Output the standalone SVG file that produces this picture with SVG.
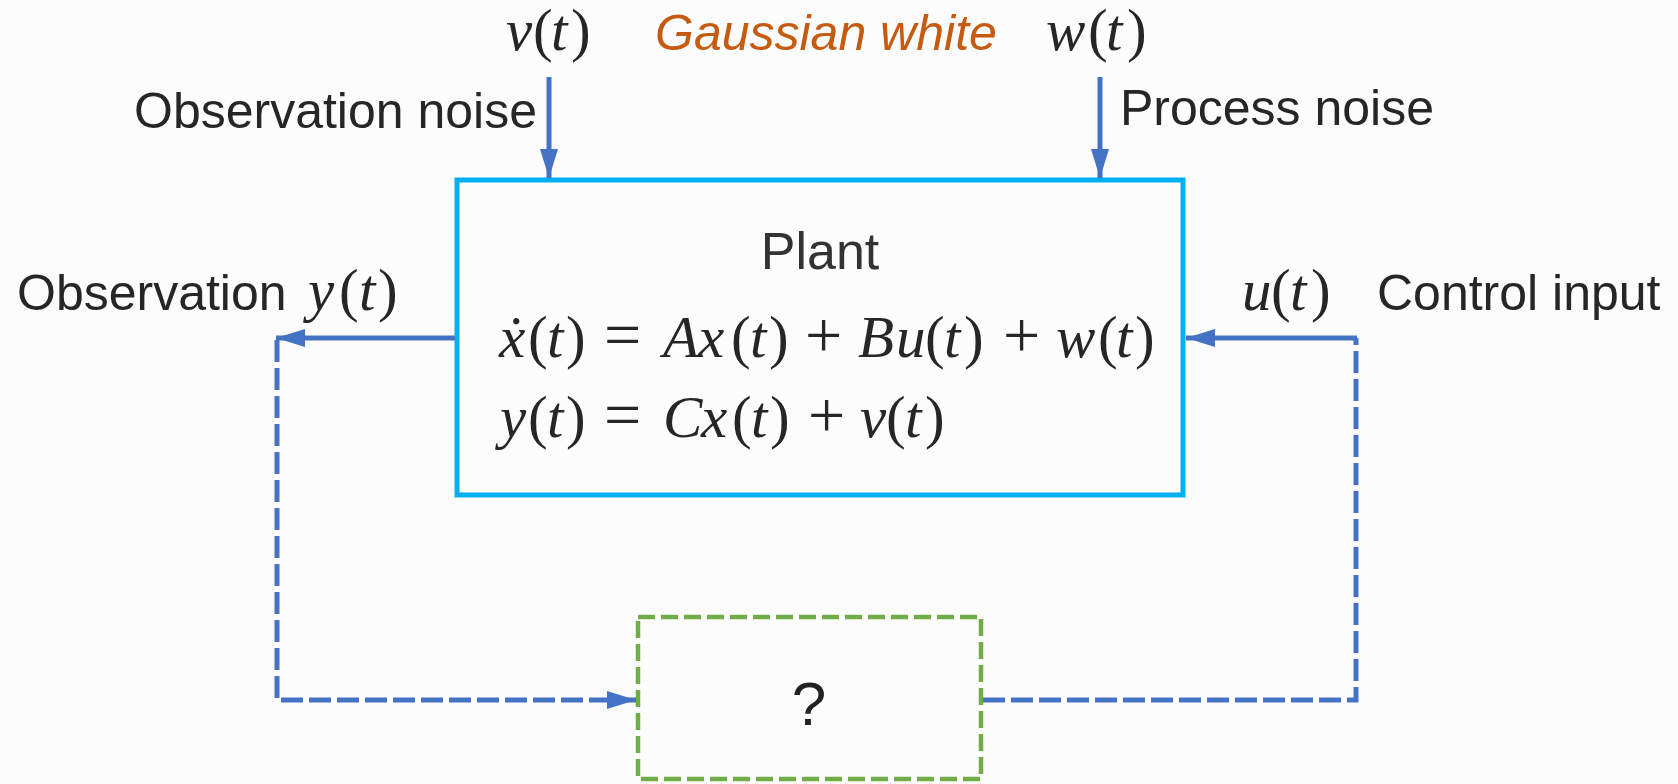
<svg xmlns="http://www.w3.org/2000/svg" width="1678" height="784" viewBox="0 0 1678 784">
<style>
.lbl{font-family:"Liberation Sans",Arial,sans-serif;font-size:50px;fill:#262626}
.math{font-family:"Liberation Serif","Times New Roman",serif;font-size:59px;fill:#262626}
.it{font-style:italic}
.op{font-size:66px}
.solid{fill:none;stroke:#4472c4;stroke-width:5}
.dash{fill:none;stroke:#4472c4;stroke-width:5;stroke-dasharray:22 6}
</style>
<defs>
<marker id="ah" viewBox="0 0 29 18" refX="29" refY="9" markerWidth="29" markerHeight="18" markerUnits="userSpaceOnUse" orient="auto">
<path d="M0,0 L29,9 L0,18 Z" fill="#4472c4"/>
</marker>
</defs>
<rect width="1678" height="784" fill="#fcfcfc"/>

<g id="labels">
<text class="lbl" x="537" y="128" text-anchor="end">Observation noise</text>
<text class="lbl" x="655" y="50" font-style="italic" style="fill:#c55a11">Gaussian white</text>
<text class="lbl" x="1120" y="125">Process noise</text>
<text class="lbl" x="17" y="310">Observation</text>
<text class="lbl" x="1377" y="310">Control input</text>
<text class="math" y="50"><tspan class="it" x="506">v</tspan><tspan x="533">(</tspan><tspan class="it" x="551">t</tspan><tspan x="571">)</tspan></text>
<text class="math" y="50"><tspan class="it" x="1046">w</tspan><tspan x="1088">(</tspan><tspan class="it" x="1106">t</tspan><tspan x="1127">)</tspan></text>
<text class="math" y="310"><tspan class="it" x="308">y</tspan><tspan x="339">(</tspan><tspan class="it" x="359">t</tspan><tspan x="378">)</tspan></text>
<text class="math" y="310"><tspan class="it" x="1242">u</tspan><tspan x="1271">(</tspan><tspan class="it" x="1290">t</tspan><tspan x="1311">)</tspan></text>
</g>

<g id="plant">
<rect x="457" y="180" width="726" height="315" fill="none" stroke="#00b0f0" stroke-width="5"/>
<text class="lbl" x="820" y="269" text-anchor="middle" style="font-size:52px;fill:#333">Plant</text>
<text class="math" y="357"><tspan class="it" x="499">ẋ</tspan><tspan x="528">(</tspan><tspan class="it" x="547">t</tspan><tspan x="566">)</tspan><tspan class="op" x="604">=</tspan><tspan class="it" x="663">A</tspan><tspan class="it" x="698">x</tspan><tspan x="731">(</tspan><tspan class="it" x="750">t</tspan><tspan x="769">)</tspan><tspan class="op" x="805">+</tspan><tspan class="it" x="858">B</tspan><tspan class="it" x="896">u</tspan><tspan x="925">(</tspan><tspan class="it" x="944">t</tspan><tspan x="964">)</tspan><tspan class="op" x="1003">+</tspan><tspan class="it" x="1056">w</tspan><tspan x="1098">(</tspan><tspan class="it" x="1116">t</tspan><tspan x="1135">)</tspan></text>
<text class="math" y="437"><tspan class="it" x="500">y</tspan><tspan x="528">(</tspan><tspan class="it" x="547">t</tspan><tspan x="566">)</tspan><tspan class="op" x="604">=</tspan><tspan class="it" x="663">C</tspan><tspan class="it" x="701">x</tspan><tspan x="732">(</tspan><tspan class="it" x="751">t</tspan><tspan x="770">)</tspan><tspan class="op" x="808">+</tspan><tspan class="it" x="860">v</tspan><tspan x="886">(</tspan><tspan class="it" x="905">t</tspan><tspan x="925">)</tspan></text>
</g>

<g id="unknown">
<rect x="638" y="617" width="343" height="162" fill="none" stroke="#70ad47" stroke-width="4.5" stroke-dasharray="17 6"/>
<text class="lbl" x="809" y="725" text-anchor="middle" style="font-size:62px;fill:#222">?</text>
</g>

<g id="connectors">
<line class="solid" x1="549" y1="77" x2="549" y2="178" marker-end="url(#ah)"/>
<line class="solid" x1="1100" y1="77" x2="1100" y2="178" marker-end="url(#ah)"/>
<line class="solid" x1="455" y1="338" x2="276" y2="338" marker-end="url(#ah)"/>
<path class="dash" d="M277,340 V700 H636" marker-end="url(#ah)"/>
<line class="solid" x1="1357" y1="338" x2="1186" y2="338" marker-end="url(#ah)"/>
<path class="dash" d="M983,700 H1356 V338"/>
</g>
</svg>
